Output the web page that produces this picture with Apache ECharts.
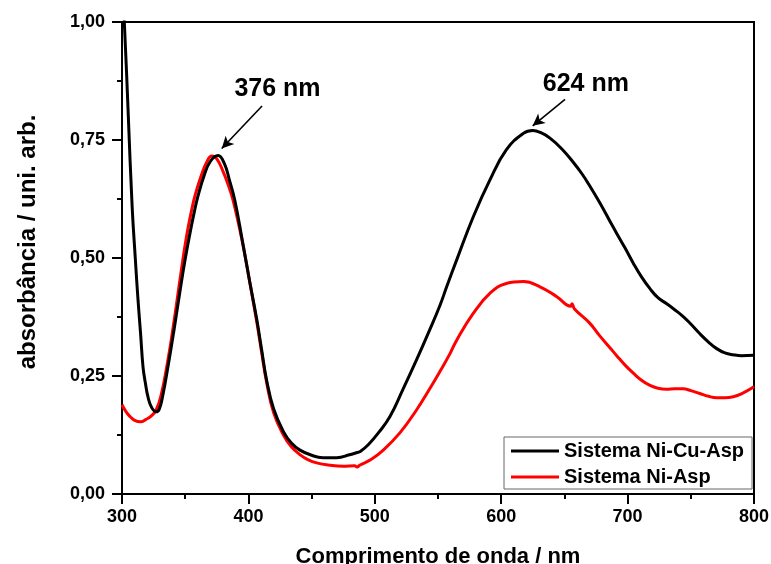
<!DOCTYPE html>
<html>
<head>
<meta charset="utf-8">
<script src="https://cdn.jsdelivr.net/npm/echarts@6/dist/echarts.min.js"></script>
<style>
html,body{margin:0;padding:0;background:#fff;}
#chart{width:771px;height:564px;}
</style>
</head>
<body>
<div id="chart"></div>
<script>
// ---- Data ----
const seriesNames = ['Sistema Ni-Cu-Asp', 'Sistema Ni-Asp'];

const wlNiCuAsp = [300,302,305,308,310.5,312.7,314.7,316.6,318.5,320.6,323.5,327,329.5,332,336.4,341,345.6,349.5,353.6,357,360,365,370,376,381,385,389.2,395,401,406.6,410.5,414.5,420,427.7,434,440.8,450,459,470,480,486,488.5,495,503,512,522,533,543,551.6,557,564.8,578,591,604,617.5,625,631,638.6,648,657,664,670,678,686,691.4,698,704.5,711,717.7,724,731,737,744,750,757,764,770.5,777,783.6,790,800];
const absNiCuAsp = [1.08,0.99,0.80,0.61,0.50,0.41,0.34,0.27,0.235,0.205,0.183,0.174,0.18,0.205,0.27,0.345,0.425,0.49,0.55,0.595,0.63,0.675,0.705,0.717,0.70,0.665,0.623,0.54,0.45,0.37,0.305,0.24,0.18,0.132,0.108,0.093,0.082,0.077,0.077,0.083,0.088,0.09,0.105,0.13,0.164,0.22,0.284,0.345,0.40,0.44,0.496,0.588,0.665,0.729,0.764,0.770,0.766,0.754,0.731,0.703,0.678,0.653,0.617,0.578,0.552,0.521,0.489,0.46,0.435,0.416,0.403,0.391,0.376,0.36,0.34,0.322,0.308,0.299,0.295,0.293,0.294];

const wlNiAsp = [300,303,306,310,314.8,319,323,327,331,336.4,340,343,347,351,354.8,358,363,367,371,375,380,384,387.8,395,401,406.6,410.5,414.5,420,427.7,434,441,447,454,465,475,484,486,488,497,506.7,520,533,545,551.6,559.6,564.8,578,591,604,617.5,630.7,644,655,656,658,670,678,686,691.4,698,704.5,711,717.7,724,731,737,744,750,757,764,770.5,777,783.6,790,800];
const absNiAsp = [0.189,0.175,0.165,0.156,0.153,0.158,0.165,0.178,0.21,0.285,0.345,0.40,0.475,0.545,0.598,0.635,0.677,0.703,0.716,0.71,0.683,0.655,0.623,0.537,0.45,0.365,0.30,0.235,0.172,0.125,0.10,0.083,0.073,0.066,0.061,0.059,0.06,0.057,0.061,0.073,0.093,0.13,0.178,0.23,0.26,0.298,0.326,0.383,0.425,0.446,0.450,0.439,0.418,0.398,0.403,0.392,0.362,0.335,0.31,0.293,0.273,0.256,0.241,0.23,0.224,0.222,0.223,0.223,0.219,0.213,0.207,0.204,0.204,0.206,0.212,0.227];

const xTicks = [300, 400, 500, 600, 700, 800];
const yTickLabels = ['0,00', '0,25', '0,50', '0,75', '1,00'];

const peakLabels = ['376 nm', '624 nm'];
const peakLabelPos = [[423, 0.858], [667, 0.869]];
const arrowStart = [[410.8, 0.822], [650.5, 0.836]];
const arrowEnd = [[378.9, 0.732], [624.9, 0.780]];

// ---- Build ----
const zip = (xs, ys) => xs.map((x, i) => [x, ys[i]]);
const FONT = '"Liberation Sans", Arial, sans-serif';

const chart = echarts.init(document.getElementById('chart'), null, {renderer: 'canvas'});
chart.setOption({
  animation: false,
  backgroundColor: '#fff',
  grid: {
    left: 122, right: 17, top: 22, bottom: 70,
    outerBoundsMode: 'none', containLabel: false,
    show: true, borderColor: '#000', borderWidth: 2, backgroundColor: 'transparent'
  },
  xAxis: {
    type: 'value', min: 300, max: 800, interval: 100,
    name: 'Comprimento de onda / nm', nameLocation: 'middle', nameGap: 52,
    nameTextStyle: {fontFamily: FONT, fontWeight: 'bold', fontSize: 22, color: '#000'},
    axisLine: {show: true, lineStyle: {color: '#000', width: 2}},
    axisTick: {show: true, length: 10, lineStyle: {color: '#000', width: 2}},
    minorTick: {show: true, splitNumber: 2, length: 5, lineStyle: {color: '#000', width: 2}},
    splitLine: {show: false},
    axisLabel: {
      margin: 14, fontFamily: FONT, fontWeight: 'bold', fontSize: 18, color: '#000',
      formatter: v => { const i = xTicks.indexOf(v); return i >= 0 ? String(xTicks[i]) : ''; }
    }
  },
  yAxis: {
    type: 'value', min: 0, max: 1, interval: 0.25,
    name: 'absorbância / uni. arb.', nameLocation: 'middle', nameGap: 82, nameRotate: 90,
    nameTextStyle: {fontFamily: FONT, fontWeight: 'bold', fontSize: 24, color: '#000', padding: [0, 0, 0, 32]},
    axisLine: {show: true, lineStyle: {color: '#000', width: 2}},
    axisTick: {show: true, length: 10, lineStyle: {color: '#000', width: 2}},
    minorTick: {show: true, splitNumber: 2, length: 5, lineStyle: {color: '#000', width: 2}},
    splitLine: {show: false},
    axisLabel: {
      margin: 17, fontFamily: FONT, fontWeight: 'bold', fontSize: 18, color: '#000',
      formatter: v => yTickLabels[Math.round(v / 0.25)] || ''
    }
  },
  legend: {
    data: seriesNames,
    orient: 'vertical',
    left: 504, top: 437, width: 250,
    backgroundColor: '#fff',
    borderColor: '#666', borderWidth: 1, borderRadius: 0,
    padding: [4, 8, 2, 7],
    itemGap: 6, itemWidth: 48, itemHeight: 3, icon: 'rect',
    textStyle: {fontFamily: FONT, fontWeight: 'bold', fontSize: 20, color: '#000', padding: [0, 6, 0, 0]}
  },
  series: [
    {
      name: seriesNames[0], type: 'line', data: zip(wlNiCuAsp, absNiCuAsp),
      showSymbol: false, symbol: 'none', smooth: 0.45, clip: true,
      lineStyle: {color: '#000', width: 3}, itemStyle: {color: '#000'}, z: 3,
      markLine: {
        silent: true, symbol: ['none', 'arrow'], symbolSize: [9, 12],
        label: {show: false},
        lineStyle: {color: '#000', width: 1.6, type: 'solid'},
        data: arrowStart.map((s, i) => [{coord: s}, {coord: arrowEnd[i]}])
      },
      markPoint: {
        silent: true, symbol: 'circle', symbolSize: 0,
        label: {show: true, position: 'inside', formatter: p => p.name,
          fontFamily: FONT, fontWeight: 'bold', fontSize: 25, color: '#000'},
        data: peakLabels.map((t, i) => ({name: t, coord: peakLabelPos[i]}))
      }
    },
    {
      name: seriesNames[1], type: 'line', data: zip(wlNiAsp, absNiAsp),
      showSymbol: false, symbol: 'none', smooth: 0.45, clip: true,
      lineStyle: {color: '#ff0000', width: 3}, itemStyle: {color: '#ff0000'}, z: 2
    }
  ]
});
</script>
</body>
</html>
